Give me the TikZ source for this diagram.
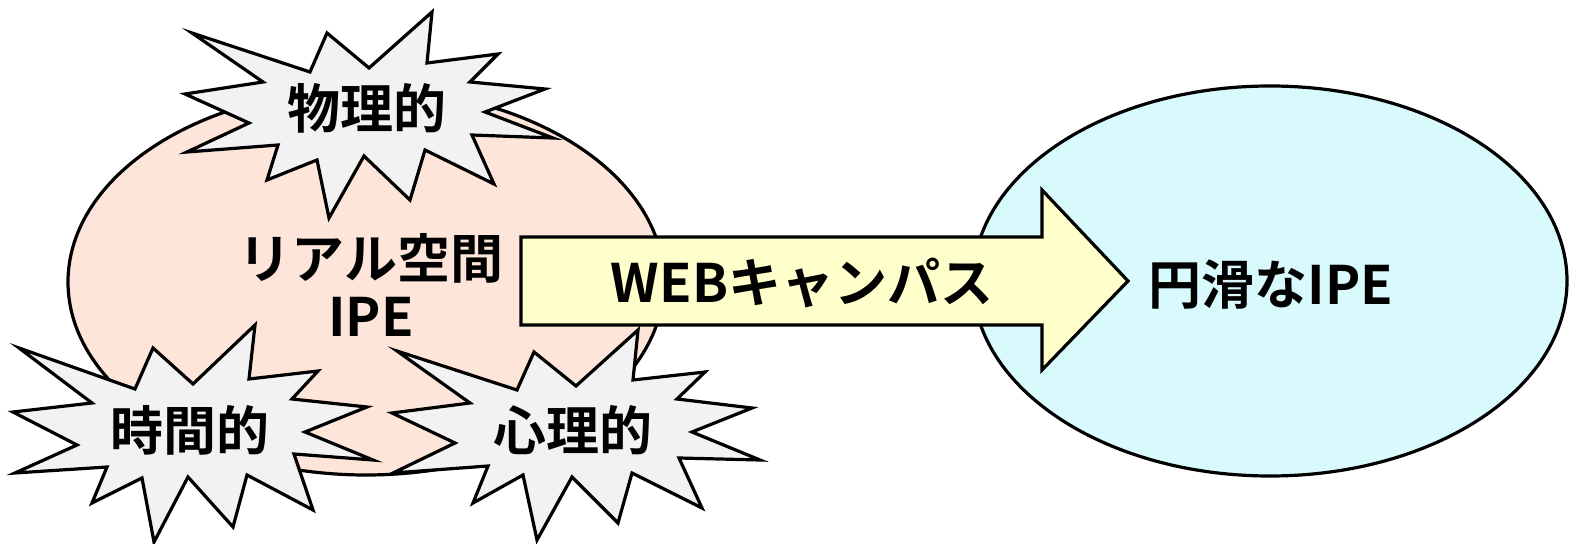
\documentclass[tikz,border=0pt]{standalone}
\usepackage{fontspec}
\setmainfont{Noto Sans CJK JP}[BoldFont={Noto Sans CJK JP Bold}]
\definecolor{pinkfill}{RGB}{253,229,218}
\definecolor{cyanfill}{RGB}{216,250,252}
\definecolor{arrowfill}{RGB}{255,255,204}
\definecolor{burstgray}{RGB}{242,242,242}
\begin{document}
\begin{tikzpicture}[x=0.5pt,y=-0.5pt, line join=miter,
  shapeline/.style={draw=black, line width=1.6pt},
  burst/.style={shapeline, fill=burstgray},
  lbl/.style={font=\fontsize{26.5}{29}\selectfont\bfseries, text=black, inner sep=0pt, align=center}]
\useasboundingbox (0,0) rectangle (1572,544);
% ellipses
\draw[shapeline, fill=pinkfill] (366,282) ellipse [x radius=149pt, y radius=96.5pt];
\draw[shapeline, fill=cyanfill] (1270,281) ellipse [x radius=148.5pt, y radius=97.5pt];
% arrow
\draw[shapeline, fill=arrowfill] (521,237) -- (1042,237) -- (1042,190) -- (1128,281) -- (1042,370) -- (1042,325) -- (521,325) -- cycle;
% top burst
\draw[burst] (192,33) -- (310,72) -- (327,33) -- (369,68) -- (432,12) -- (427,63) -- (498,54) -- (470,82) -- (545,89) -- (485,112) -- (553,138) -- (472,135) -- (494,184) -- (425,150) -- (410,200) -- (364,156) -- (329,218) -- (317,160) -- (267,180) -- (278,145) -- (187,152) -- (249,123) -- (185,94) -- (263,82) -- cycle;
% left bottom burst
\draw[burst] (19,348) -- (135,389) -- (153,348) -- (193,384) -- (255,325) -- (249,379) -- (318,371) -- (292,399) -- (367,407) -- (305,432) -- (373,460) -- (294,454) -- (313,510) -- (247,475) -- (233,527) -- (188,477) -- (154,542) -- (142,478) -- (92,503) -- (107,467) -- (15,473) -- (77,445) -- (13,412) -- (92,403) -- cycle;
% right bottom burst
\draw[burst] (397,351) -- (517,390) -- (534,352) -- (576,386) -- (638,330) -- (633,380) -- (705,372) -- (677,399) -- (752,408) -- (692,432) -- (760,460) -- (679,458) -- (702,508) -- (632,473) -- (618,523) -- (572,477) -- (537,540) -- (523,475) -- (473,503) -- (488,466) -- (393,473) -- (455,443) -- (392,413) -- (470,403) -- cycle;
% labels
\node[lbl] (real) at (371,285) {リアル空間\\IPE};
\node[lbl] (web) at (802,283) {WEBキャンパス};
\node[lbl] (smooth) at (1271,284) {円滑なIPE};
\node[lbl] (phys) at (367,108) {物理的};
\node[lbl] (time) at (190,430) {時間的};
\node[lbl] (psych) at (573,430) {心理的};
\end{tikzpicture}
\end{document}
